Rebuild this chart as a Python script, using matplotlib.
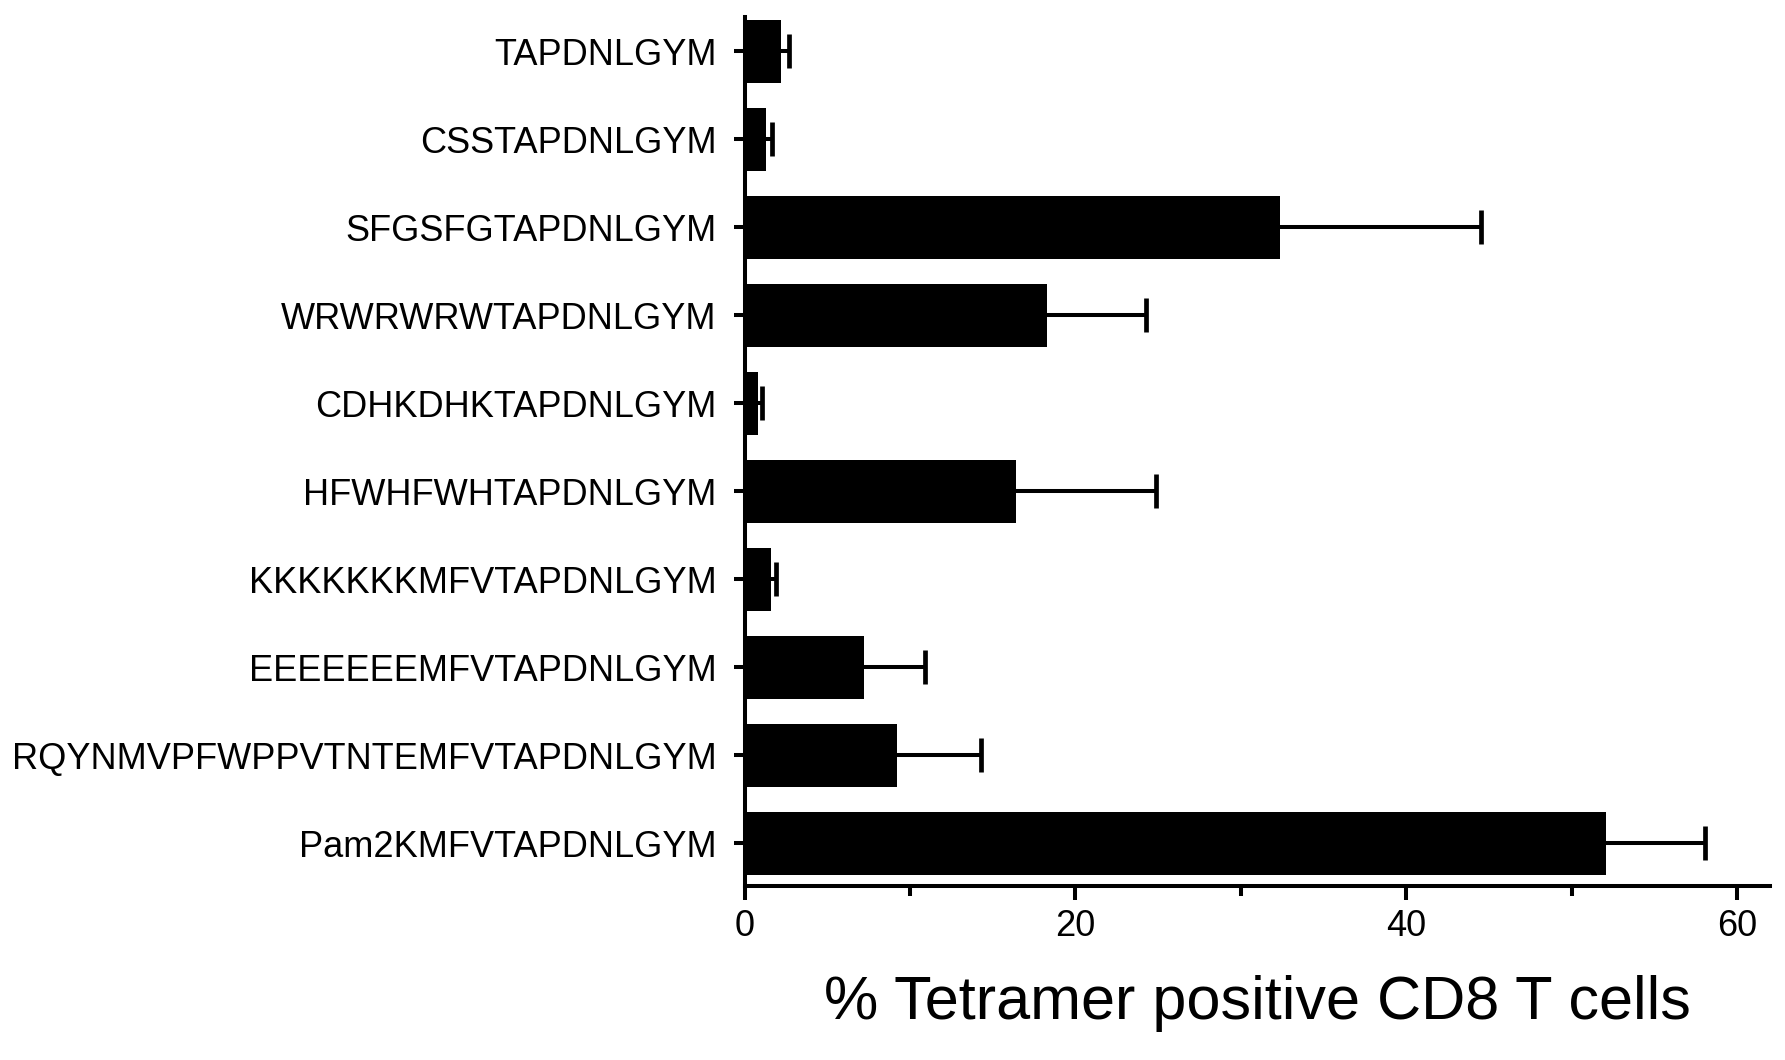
import matplotlib
matplotlib.use("Agg")
import matplotlib.pyplot as plt
from matplotlib.ticker import MultipleLocator
import numpy as np

plt.rcParams['font.family'] = ['Liberation Sans', 'DejaVu Sans']

# peptides, top to bottom
peptides = [
    "TAPDNLGYM",
    "CSSTAPDNLGYM",
    "SFGSFGTAPDNLGYM",
    "WRWRWRWTAPDNLGYM",
    "CDHKDHKTAPDNLGYM",
    "HFWHFWHTAPDNLGYM",
    "KKKKKKKMFVTAPDNLGYM",
    "EEEEEEEMFVTAPDNLGYM",
    "RQYNMVPFWPPVTNTEMFVTAPDNLGYM",
    "Pam2KMFVTAPDNLGYM",
]
means = [2.2, 1.3, 32.4, 18.3, 0.8, 16.4, 1.6, 7.2, 9.2, 52.1]
errs = [0.5, 0.35, 12.1, 6.0, 0.25, 8.5, 0.3, 3.7, 5.1, 6.0]

fig = plt.figure(figsize=(17.85, 10.60), dpi=100)
ax = fig.add_axes([0.4171, 0.1644, 0.5745, 0.8196])

ypos = np.arange(len(peptides))
means = np.array(means)
errs = np.array(errs)
ax.barh(ypos, means, height=0.71, color="black", zorder=2)
# one-sided error bars (upper only)
ax.hlines(ypos, means, means + errs, color="black", lw=2.9, zorder=1)
ax.plot(means + errs, ypos, ls="none", marker="|", markersize=24,
        markeredgewidth=3.4, color="black", zorder=3,
        solid_capstyle="round")

ax.set_yticks(ypos)
ax.set_yticklabels(peptides, fontsize=26)
ax.set_ylim(9.48, -0.39)
ax.set_xlim(0, 62)
ax.xaxis.set_major_locator(MultipleLocator(20))
ax.xaxis.set_minor_locator(MultipleLocator(10))
ax.tick_params(axis="x", which="major", labelsize=26, length=10, width=2.9, pad=7)
ax.tick_params(axis="x", which="minor", length=7, width=2.9)
ax.tick_params(axis="y", length=8, width=2.9, pad=12)

for side in ["top", "right"]:
    ax.spines[side].set_visible(False)
for side in ["left", "bottom"]:
    ax.spines[side].set_linewidth(2.9)

ax.set_xlabel("% Tetramer positive CD8 T cells", fontsize=44, labelpad=22)

fig.savefig("out.png", dpi=100)
